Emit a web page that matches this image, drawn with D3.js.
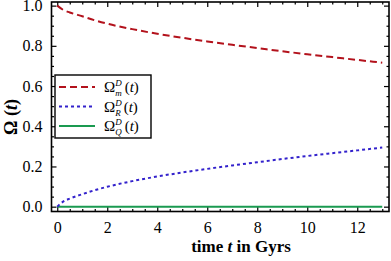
<!DOCTYPE html>
<html><head><meta charset="utf-8">
<script src="https://cdn.jsdelivr.net/npm/d3@7"></script>
</head>
<body style="margin:0;background:#fff">
<svg id="c" width="391" height="261"></svg>
<script>
const times = [0, 0.25, 0.5, 1, 1.5, 2, 3, 4, 5, 6, 7, 8, 9, 10, 11, 12, 13];
const omegaM = [1.0, 0.978, 0.966, 0.947, 0.927, 0.910, 0.883, 0.860, 0.840, 0.822, 0.805, 0.789, 0.773, 0.758, 0.744, 0.730, 0.716];
const omegaR = [0, 0.026, 0.040, 0.062, 0.082, 0.099, 0.127, 0.150, 0.170, 0.188, 0.205, 0.221, 0.237, 0.252, 0.266, 0.280, 0.294];
const omegaQ = [0, 0, 0, 0, 0, 0, 0, 0, 0, 0, 0, 0, 0, 0, 0, 0, 0];
const xTicks = [0, 2, 4, 6, 8, 10, 12];
const yTicks = [0, 0.2, 0.4, 0.6, 0.8, 1.0];

const FONT = "'Liberation Serif'";
const svg = d3.select("#c");
const L = 51.5, R = 389, T = 2, B = 211.5;
const x = d3.scaleLinear().domain([-0.23, 13.27]).range([L, R]);
const y = d3.scaleLinear().domain([-0.024, 1.018]).range([B, T]);

const xMinor = d3.range(0, 13.01, 0.5).filter(v => v % 2 !== 0);
const yMinor = d3.range(0, 1.0001, 0.05).map(v => +v.toFixed(2)).filter(v => Math.round(v * 100) % 20 !== 0);

function axis(g, a) { g.call(a); g.select(".domain").remove(); g.selectAll("line").attr("stroke", "#000").attr("stroke-width", 1.2); }

svg.append("g").attr("transform", `translate(0,${B})`).call(g => axis(g, d3.axisBottom(x).tickValues(xTicks).tickSize(-5).tickPadding(10).tickFormat(d3.format("d"))));
svg.append("g").attr("transform", `translate(0,${B})`).call(g => axis(g, d3.axisBottom(x).tickValues(xMinor).tickSize(-2.5).tickFormat("")));
svg.append("g").attr("transform", `translate(0,${T})`).call(g => axis(g, d3.axisTop(x).tickValues(xTicks).tickSize(-5).tickFormat("")));
svg.append("g").attr("transform", `translate(0,${T})`).call(g => axis(g, d3.axisTop(x).tickValues(xMinor).tickSize(-2.5).tickFormat("")));
svg.append("g").attr("transform", `translate(${L},0)`).call(g => axis(g, d3.axisLeft(y).tickValues(yTicks).tickSize(-5).tickPadding(9).tickFormat(d3.format(".1f"))));
svg.append("g").attr("transform", `translate(${L},0)`).call(g => axis(g, d3.axisLeft(y).tickValues(yMinor).tickSize(-2.5).tickFormat("")));
svg.append("g").attr("transform", `translate(${R},0)`).call(g => axis(g, d3.axisRight(y).tickValues(yTicks).tickSize(-5).tickFormat("")));
svg.append("g").attr("transform", `translate(${R},0)`).call(g => axis(g, d3.axisRight(y).tickValues(yMinor).tickSize(-2.5).tickFormat("")));

svg.selectAll(".tick text").style("font-family", FONT).style("font-size", "16px").attr("fill", "#000");
svg.selectAll(".tick text").filter(d => d === 1.0 && false);

const series = [
  {vals: omegaM, color: "#b3121c", dash: "7,4", sub: "m"},
  {vals: omegaR, color: "#3322cc", dash: "3,3", sub: "R"},
  {vals: omegaQ, color: "#1a9a50", dash: null, sub: "Q"}
];
const line = d3.line().x((d, i) => x(times[i])).y(d => y(d)).curve(d3.curveMonotoneX);
svg.append("clipPath").attr("id", "pc").append("rect").attr("x", L).attr("y", T).attr("width", R - L).attr("height", B - T);
series.slice().reverse().forEach(s => {
  svg.append("path").datum(s.vals).attr("d", line).attr("fill", "none").attr("stroke", s.color)
    .attr("stroke-width", 2).attr("stroke-dasharray", s.dash).attr("clip-path", "url(#pc)");
});

svg.append("rect").attr("x", L).attr("y", T).attr("width", R - L).attr("height", B - T)
  .attr("fill", "none").attr("stroke", "#000").attr("stroke-width", 1.6);

const lg = svg.append("g");
lg.append("rect").attr("x", 55).attr("y", 75).attr("width", 96).attr("height", 63)
  .attr("fill", "#fff").attr("stroke", "#000").attr("stroke-width", 1.4);
series.forEach((s, i) => {
  const yy = 87 + i * 19.5;
  lg.append("line").attr("x1", 59).attr("x2", 95).attr("y1", yy).attr("y2", yy)
    .attr("stroke", s.color).attr("stroke-width", 2).attr("stroke-dasharray", s.dash);
  const t = lg.append("text").attr("x", 104).attr("y", yy + 5).style("font-family", FONT).style("font-size", "15px");
  t.append("tspan").text("Ω");
  t.append("tspan").style("font-size", "9px").style("font-style", "italic").attr("dy", -6).text("D");
  t.append("tspan").style("font-size", "9px").style("font-style", "italic").attr("dx", -6.5).attr("dy", 10).text(s.sub);
  t.append("tspan").attr("dy", -4).attr("dx", 3).text("(");
  t.append("tspan").style("font-style", "italic").text("t");
  t.append("tspan").text(")");
});

const xl = svg.append("text").attr("x", 241).attr("y", 252).attr("text-anchor", "middle")
  .style("font-family", FONT).style("font-size", "17px").style("font-weight", "bold");
xl.append("tspan").text("time ");
xl.append("tspan").style("font-style", "italic").text("t");
xl.append("tspan").text(" in Gyrs");

const yl = svg.append("text").attr("transform", "translate(17,117) rotate(-90)").attr("text-anchor", "middle")
  .style("font-family", FONT).style("font-size", "18px").style("font-weight", "bold");
yl.append("tspan").text("Ω (");
yl.append("tspan").style("font-style", "italic").text("t");
yl.append("tspan").text(")");
</script>
</body></html>
